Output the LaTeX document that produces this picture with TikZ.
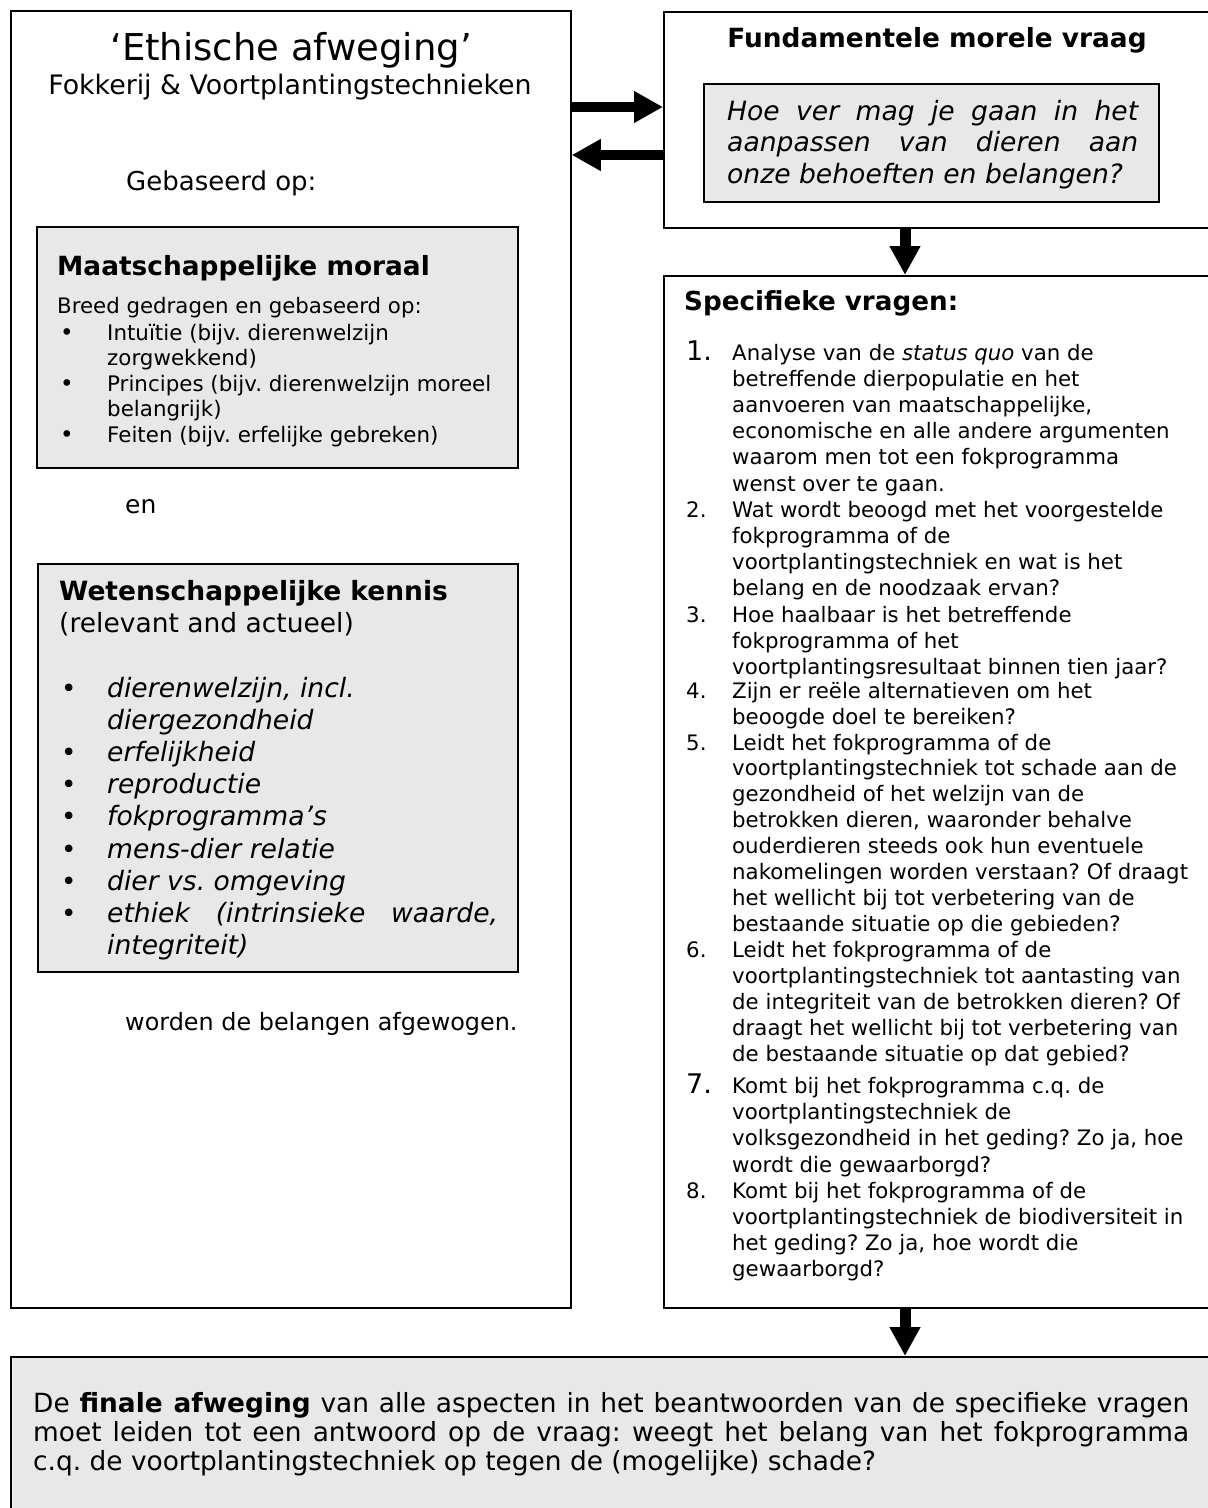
\documentclass[tikz,border=0pt]{standalone}
\usepackage{fontspec}
\setmainfont{DejaVu Sans}
\usetikzlibrary{arrows.meta}
\definecolor{boxgray}{RGB}{232,232,232}
\frenchspacing
\newcommand\tl[3]{\parbox[t]{1000pt}{\fontsize{#1}{#2}\selectfont #3}}
\begin{document}
\begin{tikzpicture}[x=1pt,y=-1pt,
  frame/.style={draw=black, line width=1.8pt, anchor=north west, inner sep=0pt},
  gbox/.style={frame, fill=boxgray},
  txt/.style={anchor=base west, inner sep=0pt},
  ctxt/.style={anchor=base, inner sep=0pt},
  harrow/.style={line width=10pt, -{Triangle[length=29pt,width=30pt]}},
  varrow/.style={line width=11pt, -{Triangle[length=29pt,width=29pt]}}]
\useasboundingbox (0,0) rectangle (1208,1508);
\fill[white] (0,0) rectangle (1208,1508);

% main boxes
\node[frame, minimum width=560pt, minimum height=1297pt] (left) at (10,10) {};
\node[frame, minimum width=560pt, minimum height=216pt] (fund) at (663,11) {};
\node[frame, minimum width=560pt, minimum height=1032pt] (spec) at (663,275) {};
\node[gbox, minimum width=1220pt, minimum height=200pt] (final) at (10,1356) {};

% inner gray boxes
\node[gbox, minimum width=455pt, minimum height=118pt] (hoe) at (703,83) {};
\node[gbox, minimum width=481pt, minimum height=241pt] (maat) at (36,226) {};
\node[gbox, minimum width=480pt, minimum height=408pt] (weten) at (37,563) {};

% connectors
\coordinate (r1) at (0,107);
\coordinate (r2) at (0,155);
\coordinate (dx) at (905,0);
\draw[harrow] (left.east |- r1) -- (fund.west |- r1);
\draw[harrow] (fund.west |- r2) -- (left.east |- r2);
\draw[varrow] (fund.south -| dx) -- (spec.north -| dx);
\draw[varrow] (spec.south -| dx) -- (final.north -| dx);

% left box texts
\node[ctxt, font=\fontsize{37}{44}\selectfont] (title) at (291,60) {‘Ethische afweging’};
\node[ctxt, font=\fontsize{26.8}{32}\selectfont] (sub) at (290,94) {Fokkerij \& Voortplantingstechnieken};
\node[txt, font=\fontsize{26}{30}\selectfont] (geb) at (126,190) {Gebaseerd op:};

\node[txt, font=\fontsize{26.4}{30}\selectfont\bfseries] (maath) at (57,275) {Maatschappelijke moraal};
\node[txt] (breed) at (57,313) {\tl{21.3}{25.5}{Breed gedragen en gebaseerd op:}};
\node[txt] (mb) at (60,340) {\tl{23}{25.5}{•\\ \\•\\ \\•}};
\node[txt] (mt) at (107,340) {\tl{21.4}{25.5}{Intuïtie (bijv. dierenwelzijn\\zorgwekkend)\\Principes (bijv. dierenwelzijn moreel\\belangrijk)\\Feiten (bijv. erfelijke gebreken)}};

\node[txt, font=\fontsize{25}{30}\selectfont] (en) at (125,513) {en};

\node[txt, font=\fontsize{26.5}{30}\selectfont\bfseries] (wetenh) at (59,600) {Wetenschappelijke kennis};
\node[txt, font=\fontsize{26.5}{30}\selectfont] (relev) at (59,632) {(relevant and actueel)};
\node[txt] (wb) at (61,697) {\tl{26}{32.2}{•\\ \\•\\•\\•\\•\\•\\•}};
\node[txt] (wt) at (107,697) {\tl{26.6}{32.2}{\itshape dierenwelzijn, incl.\\diergezondheid\\erfelijkheid\\reproductie\\fokprogramma’s\\mens-dier relatie\\dier vs. omgeving\\\makebox[391pt][s]{ethiek (intrinsieke waarde,}\\integriteit)}};

\node[txt, font=\fontsize{23.9}{30}\selectfont] (worden) at (125,1030) {worden de belangen afgewogen.};

% fundamental question
\node[ctxt, font=\fontsize{26.4}{30}\selectfont\bfseries] (fundh) at (937,47) {Fundamentele morele vraag};
\node[txt] (hoet) at (727,120) {\tl{26.6}{31.5}{\itshape\makebox[411pt][s]{Hoe ver mag je gaan in het}\\\makebox[411pt][s]{aanpassen van dieren aan}\\onze behoeften en belangen?}};

% specific questions
\node[txt, font=\fontsize{26.2}{30}\selectfont\bfseries] (spech) at (684,310) {Specifieke vragen:};
\node[txt, font=\fontsize{27}{28}\selectfont] (n1) at (686,360) {1.};
\node[txt] (q1) at (732,360) {\tl{21.3}{26.2}{Analyse van de \textit{status quo} van de\\betreffende dierpopulatie en het\\aanvoeren van maatschappelijke,\\economische en alle andere argumenten\\waarom men tot een fokprogramma\\wenst over te gaan.}};
\node[txt, font=\fontsize{21.3}{26}\selectfont] (n2) at (686,517) {2.};
\node[txt] (q2) at (732,517) {\tl{21.3}{26}{Wat wordt beoogd met het voorgestelde\\fokprogramma of de\\voortplantingstechniek en wat is het\\belang en de noodzaak ervan?}};
\node[txt, font=\fontsize{21.3}{26}\selectfont] (n3) at (686,622) {3.};
\node[txt] (q3) at (732,622) {\tl{21.3}{26}{Hoe haalbaar is het betreffende\\fokprogramma of het\\voortplantingsresultaat binnen tien jaar?}};
\node[txt, font=\fontsize{21.3}{26}\selectfont] (n4) at (686,698) {4.};
\node[txt] (q4) at (732,698) {\tl{21.3}{26}{Zijn er reële alternatieven om het\\beoogde doel te bereiken?}};
\node[txt, font=\fontsize{21.3}{26}\selectfont] (n5) at (686,750) {5.};
\node[txt] (q5) at (732,750) {\tl{21.3}{25.9}{Leidt het fokprogramma of de\\voortplantingstechniek tot schade aan de\\gezondheid of het welzijn van de\\betrokken dieren, waaronder behalve\\ouderdieren steeds ook hun eventuele\\nakomelingen worden verstaan? Of draagt\\het wellicht bij tot verbetering van de\\bestaande situatie op die gebieden?}};
\node[txt, font=\fontsize{21.3}{26}\selectfont] (n6) at (686,957) {6.};
\node[txt] (q6) at (732,957) {\tl{21.3}{26}{Leidt het fokprogramma of de\\voortplantingstechniek tot aantasting van\\de integriteit van de betrokken dieren? Of\\draagt het wellicht bij tot verbetering van\\de bestaande situatie op dat gebied?}};
\node[txt, font=\fontsize{27}{28}\selectfont] (n7) at (686,1093) {7.};
\node[txt] (q7) at (732,1093) {\tl{21.3}{26.4}{Komt bij het fokprogramma c.q. de\\voortplantingstechniek de\\volksgezondheid in het geding? Zo ja, hoe\\wordt die gewaarborgd?}};
\node[txt, font=\fontsize{21.3}{26}\selectfont] (n8) at (686,1198) {8.};
\node[txt] (q8) at (732,1198) {\tl{21.3}{26}{Komt bij het fokprogramma of de\\voortplantingstechniek de biodiversiteit in\\het geding? Zo ja, hoe wordt die\\gewaarborgd?}};

% final
\node[txt] (fint) at (33,1412) {\tl{26.4}{29}{\makebox[1156pt][s]{De \textbf{finale afweging} van alle aspecten in het beantwoorden van de specifieke vragen}\\\makebox[1156pt][s]{moet leiden tot een antwoord op de vraag: weegt het belang van het fokprogramma}\\c.q. de voortplantingstechniek op tegen de (mogelijke) schade?}};
\end{tikzpicture}
\end{document}
